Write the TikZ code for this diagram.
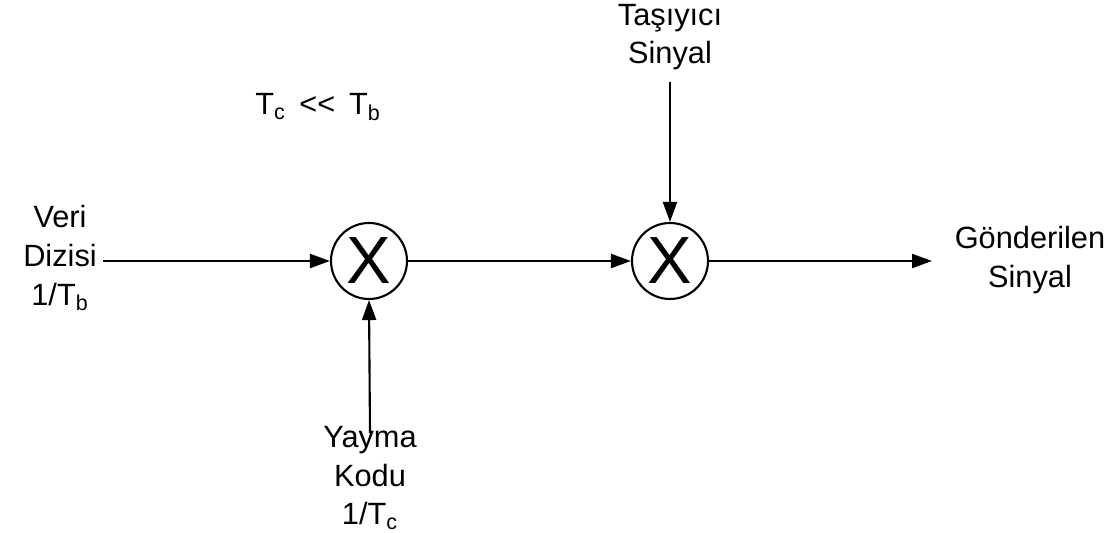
\documentclass[tikz,border=0pt]{standalone}
\usepackage{fontspec}
\setmainfont{Liberation Sans}
\usetikzlibrary{arrows.meta}

\tikzset{
	mixer/.style={draw, circle, line width=1.2pt, minimum size=1.52cm, inner sep=0pt, font=\fontsize{38}{38}\selectfont},
	lbl/.style={align=center, font=\fontsize{17.5}{22}\selectfont},
	sig/.style={-{Triangle[length=0.4cm, width=0.28cm]}, line width=1.2pt}
}

\begin{document}
\begin{tikzpicture}[x=0.02cm, y=-0.02cm]
	
	\useasboundingbox (0,0) rectangle (1117,533);
	
	%mixers
	\node[mixer] (mixA) at (369,261) {X};
	\node[mixer] (mixB) at (670,261) {X};
	
	%labels
	\node[lbl] (data) at (60,258) {Veri\\Dizisi\\1/T\textsubscript{b}};
	\node[lbl] (ratio) at (318,107) {T\textsubscript{c} \,{<}{<}\, T\textsubscript{b}};
	\node[lbl] (carrier) at (670,37) {Taşıyıcı\\Sinyal};
	\node[lbl] (code) at (370,478) {Yayma\\Kodu\\1/T\textsubscript{c}};
	\node[lbl] (out) at (1030,260) {Gönderilen\\Sinyal};
	
	%free ends of the signal paths
	\coordinate (dataend) at (103,261);
	\coordinate (carrierend) at (670,82);
	\coordinate (codeend) at (370,433);
	\coordinate (outend) at (932,261);
	
	%signal paths
	\draw[sig] (dataend) -- (mixA.west);
	\draw[sig] (mixA.east) -- (mixB.west);
	\draw[sig] (carrierend) -- (mixB.north);
	\draw[sig] (codeend) -- (mixA.south);
	\draw[sig] (mixB.east) -- (outend);
	
\end{tikzpicture}
\end{document}
